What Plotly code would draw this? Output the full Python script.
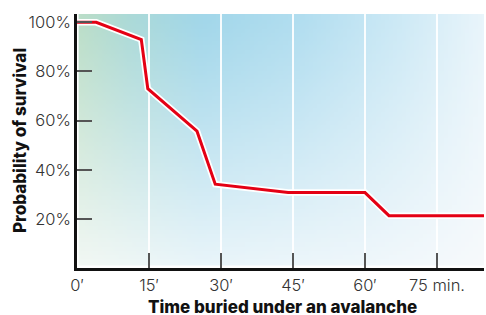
import base64, struct, zlib
import numpy as np
import plotly.graph_objects as go

# ---- data ----
minutes = [0, 4, 13.4, 14.75, 25, 28.8, 44, 60, 65, 84.8]
survival = [100, 100, 93, 73, 55.7, 34.1, 30.7, 30.7, 21.3, 21.3]
x_tickvals = [0, 15, 30, 45, 60, 75]
x_ticktext = ["0\u2032", "15\u2032", "30\u2032", "45\u2032", "60\u2032", "75 min."]
y_tickvals = [20, 40, 60, 80, 100]
y_ticktext = ["20%", "40%", "60%", "80%", "100%"]
x_title = "Time buried under an avalanche"
y_title = "Probability of survival"

# ---- background gradient image (style only) ----
W, H = 96, 60
u = np.linspace(0, 1, W)
v = np.linspace(0, 1, H)
top_stops_u = [0.0, 0.12, 0.3, 0.55, 0.8, 1.0]
top_cols = np.array([[187, 222, 201], [172, 218, 216], [162, 215, 234],
                     [178, 222, 240], [206, 234, 246], [233, 245, 251]], float)
bot_stops_u = [0.0, 0.3, 0.7, 1.0]
bot_cols = np.array([[242, 248, 244], [233, 245, 250], [239, 247, 251],
                     [247, 250, 252]], float)
top = np.stack([np.interp(u, top_stops_u, top_cols[:, c]) for c in range(3)], -1)
bot = np.stack([np.interp(u, bot_stops_u, bot_cols[:, c]) for c in range(3)], -1)
t = (v ** 1.1)[:, None, None]
img = (top[None, :, :] * (1 - t) + bot[None, :, :] * t).clip(0, 255).astype(np.uint8)


def png_bytes(arr):
    h, w, _ = arr.shape
    raw = b"".join(b"\x00" + arr[r].tobytes() for r in range(h))

    def chunk(tag, data):
        c = struct.pack(">I", len(data)) + tag + data
        return c + struct.pack(">I", zlib.crc32(tag + data) & 0xffffffff)

    return (b"\x89PNG\r\n\x1a\n" + chunk(b"IHDR", struct.pack(">IIBBBBB", w, h, 8, 2, 0, 0, 0))
            + chunk(b"IDAT", zlib.compress(raw, 9)) + chunk(b"IEND", b""))


src = "data:image/png;base64," + base64.b64encode(png_bytes(img)).decode()

fig = go.Figure()
fig.add_trace(go.Scatter(x=minutes, y=survival, mode="lines",
                         line=dict(color="white", width=6.5), hoverinfo="skip"))
fig.add_trace(go.Scatter(x=minutes, y=survival, mode="lines",
                         line=dict(color="rgb(228,0,20)", width=3)))

fig.add_layout_image(dict(source=src, xref="paper", yref="paper", x=0.004, y=1,
                          sizex=0.996, sizey=0.99, sizing="stretch", layer="below"))

font_family = "Inter, Roboto, sans-serif"
tick_font = dict(family=font_family, size=16.5, color="#333333", weight=300)
title_font = dict(family=font_family, size=17, color="#111111", weight=800)

fig.update_layout(
    width=486, height=315,
    margin=dict(l=77, r=2, t=14, b=47),
    paper_bgcolor="white", plot_bgcolor="rgba(0,0,0,0)",
    showlegend=False,
    font=dict(family=font_family, color="#333333", size=16),
    xaxis=dict(range=[0, 84.8], tickvals=x_tickvals, ticktext=x_ticktext,
               ticks="inside", ticklen=15, tickwidth=2, tickcolor="#555555",
               showgrid=True, gridcolor="rgba(255,255,255,0.9)", gridwidth=1.5,
               showline=True, linecolor="#111111", linewidth=2.5,
               zeroline=False, tickfont=tick_font, automargin=False),
    yaxis=dict(range=[0, 103.4], tickvals=y_tickvals, ticktext=y_ticktext,
               ticks="inside", ticklen=15, tickwidth=2, tickcolor="#555555",
               showgrid=False, showline=True, linecolor="#111111", linewidth=2.5,
               zeroline=False, tickfont=tick_font, automargin=False),
    annotations=[
        dict(text=x_title, xref="paper", yref="paper",
             x=0.504, y=0, yshift=-39, xanchor="center", yanchor="middle",
             borderpad=0, showarrow=False, font=title_font),
        dict(text=y_title, xref="paper", yref="paper",
             x=0, xshift=-57, y=0.5, xanchor="center", yanchor="middle",
             textangle=-90, showarrow=False, font=title_font),
    ],
)

fig.write_html("out.html", config={"displayModeBar": False},
               post_script="document.body.style.margin='0';")
